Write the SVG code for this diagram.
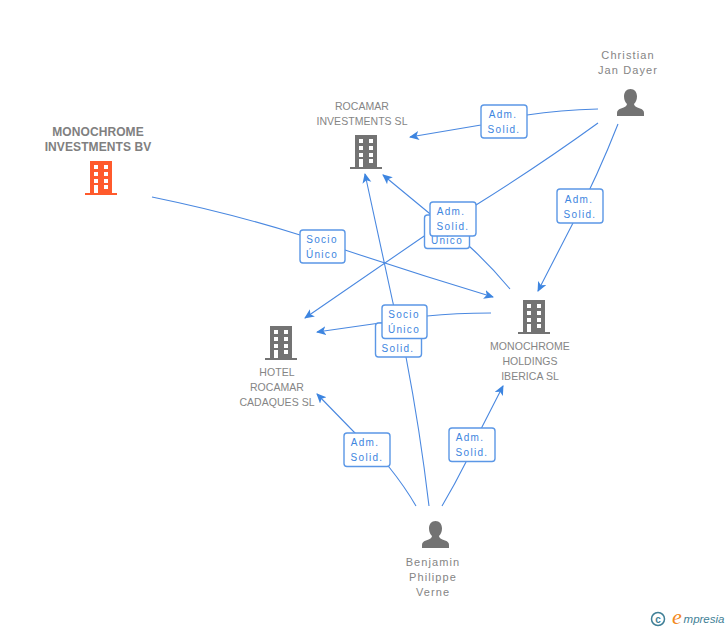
<svg xmlns="http://www.w3.org/2000/svg" width="728" height="630" viewBox="0 0 728 630">
<style>
text{font-family:"Liberation Sans",Arial,sans-serif;text-anchor:middle}
.n{font-size:10.500px;fill:#858585;letter-spacing:.05px}
.m{font-size:11px;fill:#858585;letter-spacing:1.1px}
.b{font-size:12px;font-weight:bold;fill:#808080;letter-spacing:.1px}
.l{font-size:10px;fill:#3d85e0;letter-spacing:1.300px}
.e{fill:none;stroke:#4a88e0;stroke-width:1.1}
.box{fill:#fff;stroke:#5b97e6;stroke-width:1.400}
.g{fill:#737373}.o{fill:#ff5a2c}.w{fill:#fff}
</style>
<defs>
<marker id="a" markerWidth="12" markerHeight="10" refX="9" refY="4.500" orient="auto" markerUnits="userSpaceOnUse"><path d="M0 0L10 4.500L0 9L2.500 4.500Z" fill="#3d85e0"/></marker>
<g id="bld"><path d="M5 0H27V32H32V34H0V32H5Z"/><g class="w"><rect x="9" y="4" width="4" height="4"/><rect x="19" y="4" width="4" height="4"/><rect x="9" y="11" width="4" height="4"/><rect x="19" y="11" width="4" height="4"/><rect x="9" y="18" width="4" height="4"/><rect x="19" y="18" width="4" height="4"/><rect x="9" y="24" width="4" height="8"/><rect x="19" y="24" width="4" height="4"/></g></g>
<path id="usr" d="M13.500 0C9.500 0 7 3 7 7.500C7 11 8.500 13.500 10 15C10 17 8 18 4 19.500C1 20.500 0 22 0 24V27H27V24C27 22 26 20.500 23 19.500C19 18 17 17 17 15C18.500 13.500 20 11 20 7.500C20 3 17.500 0 13.500 0Z"/>
</defs>
<g id="connectors">
<path class="e" marker-end="url(#a)" d="M598 109Q560 110 527 115L481 125L410 137"/>
<path class="e" marker-end="url(#a)" d="M598 123Q540 165 476 205L430 232L305 318"/>
<path class="e" marker-end="url(#a)" d="M618 124Q598 175 573 223L538 291"/>
<path class="e" marker-end="url(#a)" d="M152 197Q230 213 300 235L345 250Q420 275 493 297"/>
<path class="e" marker-end="url(#a)" d="M510 289Q490 265 469 246L429 213L383 175"/>
<path class="e" marker-end="url(#a)" d="M491 313Q455 313 427 316L380 323L317 332"/>
<path class="e" marker-end="url(#a)" d="M429 506Q420 430 406 357L393 303L365 174"/>
<path class="e" marker-end="url(#a)" d="M416 506Q405 487 389 467L354 432L317 394"/>
<path class="e" marker-end="url(#a)" d="M442 506Q455 484 466 462L482 427L503 386"/>
</g>
<g id="edge-labels">
<g><rect class="box" x="481" y="105" width="46" height="33" rx="3"/><text class="l" x="503" y="118">Adm.</text><text class="l" x="504" y="133">Solid.</text></g>
<g><rect class="box" x="557" y="189" width="46" height="34" rx="3"/><text class="l" x="579" y="203">Adm.</text><text class="l" x="580" y="218">Solid.</text></g>
<g><rect class="box" x="300" y="230" width="45" height="33" rx="3"/><text class="l" x="322" y="243">Socio</text><text class="l" x="322" y="258">Único</text></g>
<g><rect class="box" x="424.500" y="215" width="45" height="33.500" rx="3"/><text class="l" x="447" y="244">Único</text></g>
<g><rect class="box" x="430" y="202" width="46" height="34" rx="3"/><text class="l" x="451" y="215">Adm.</text><text class="l" x="453" y="230">Solid.</text></g>
<g><rect class="box" x="375.500" y="323" width="46" height="34" rx="3"/><text class="l" x="398" y="352">Solid.</text></g>
<g><rect class="box" x="382" y="305" width="45" height="33.500" rx="3"/><text class="l" x="404" y="318">Socio</text><text class="l" x="404" y="333">Único</text></g>
<g><rect class="box" x="344" y="433" width="46" height="33.500" rx="3"/><text class="l" x="365" y="446">Adm.</text><text class="l" x="367" y="461">Solid.</text></g>
<g><rect class="box" x="449" y="428" width="46" height="33.500" rx="3"/><text class="l" x="470" y="441">Adm.</text><text class="l" x="472" y="456">Solid.</text></g>
</g>
<g id="monochrome-bv"><text class="b" x="98" y="136">MONOCHROME</text><text class="b" x="98" y="151">INVESTMENTS BV</text><use href="#bld" class="o" x="85" y="161"/></g>
<g id="rocamar"><text class="n" x="362" y="110">ROCAMAR</text><text class="n" x="362" y="125">INVESTMENTS SL</text><use href="#bld" class="g" x="350" y="135"/></g>
<g id="hotel"><use href="#bld" class="g" x="265" y="326"/><text class="n" x="277" y="376">HOTEL</text><text class="n" x="277" y="391">ROCAMAR</text><text class="n" x="277" y="406">CADAQUES SL</text></g>
<g id="holdings"><use href="#bld" class="g" x="518" y="300"/><text class="n" x="530" y="350">MONOCHROME</text><text class="n" x="530" y="365">HOLDINGS</text><text class="n" x="530" y="380">IBERICA SL</text></g>
<g id="christian"><text class="m" x="628" y="59">Christian</text><text class="m" x="628" y="74">Jan Dayer</text><use href="#usr" class="g" x="617" y="89"/></g>
<g id="benjamin"><use href="#usr" class="g" x="422" y="521"/><text class="m" x="433" y="566">Benjamin</text><text class="m" x="433" y="581">Philippe</text><text class="m" x="433" y="596">Verne</text></g>
<g id="logo"><circle cx="658" cy="619" r="6.500" fill="none" stroke="#3f7f96" stroke-width="1.500"/><text x="658" y="622.500" style="font-size:10px;font-weight:bold;fill:#3f7f96">c</text><text x="677" y="624" style="font-family:'Liberation Serif',serif;font-size:22px;font-style:italic;fill:#f28a1e">e</text><text x="704" y="623" style="font-size:11.500px;font-style:italic;fill:#3f7f96">mpresia</text></g>
</svg>
